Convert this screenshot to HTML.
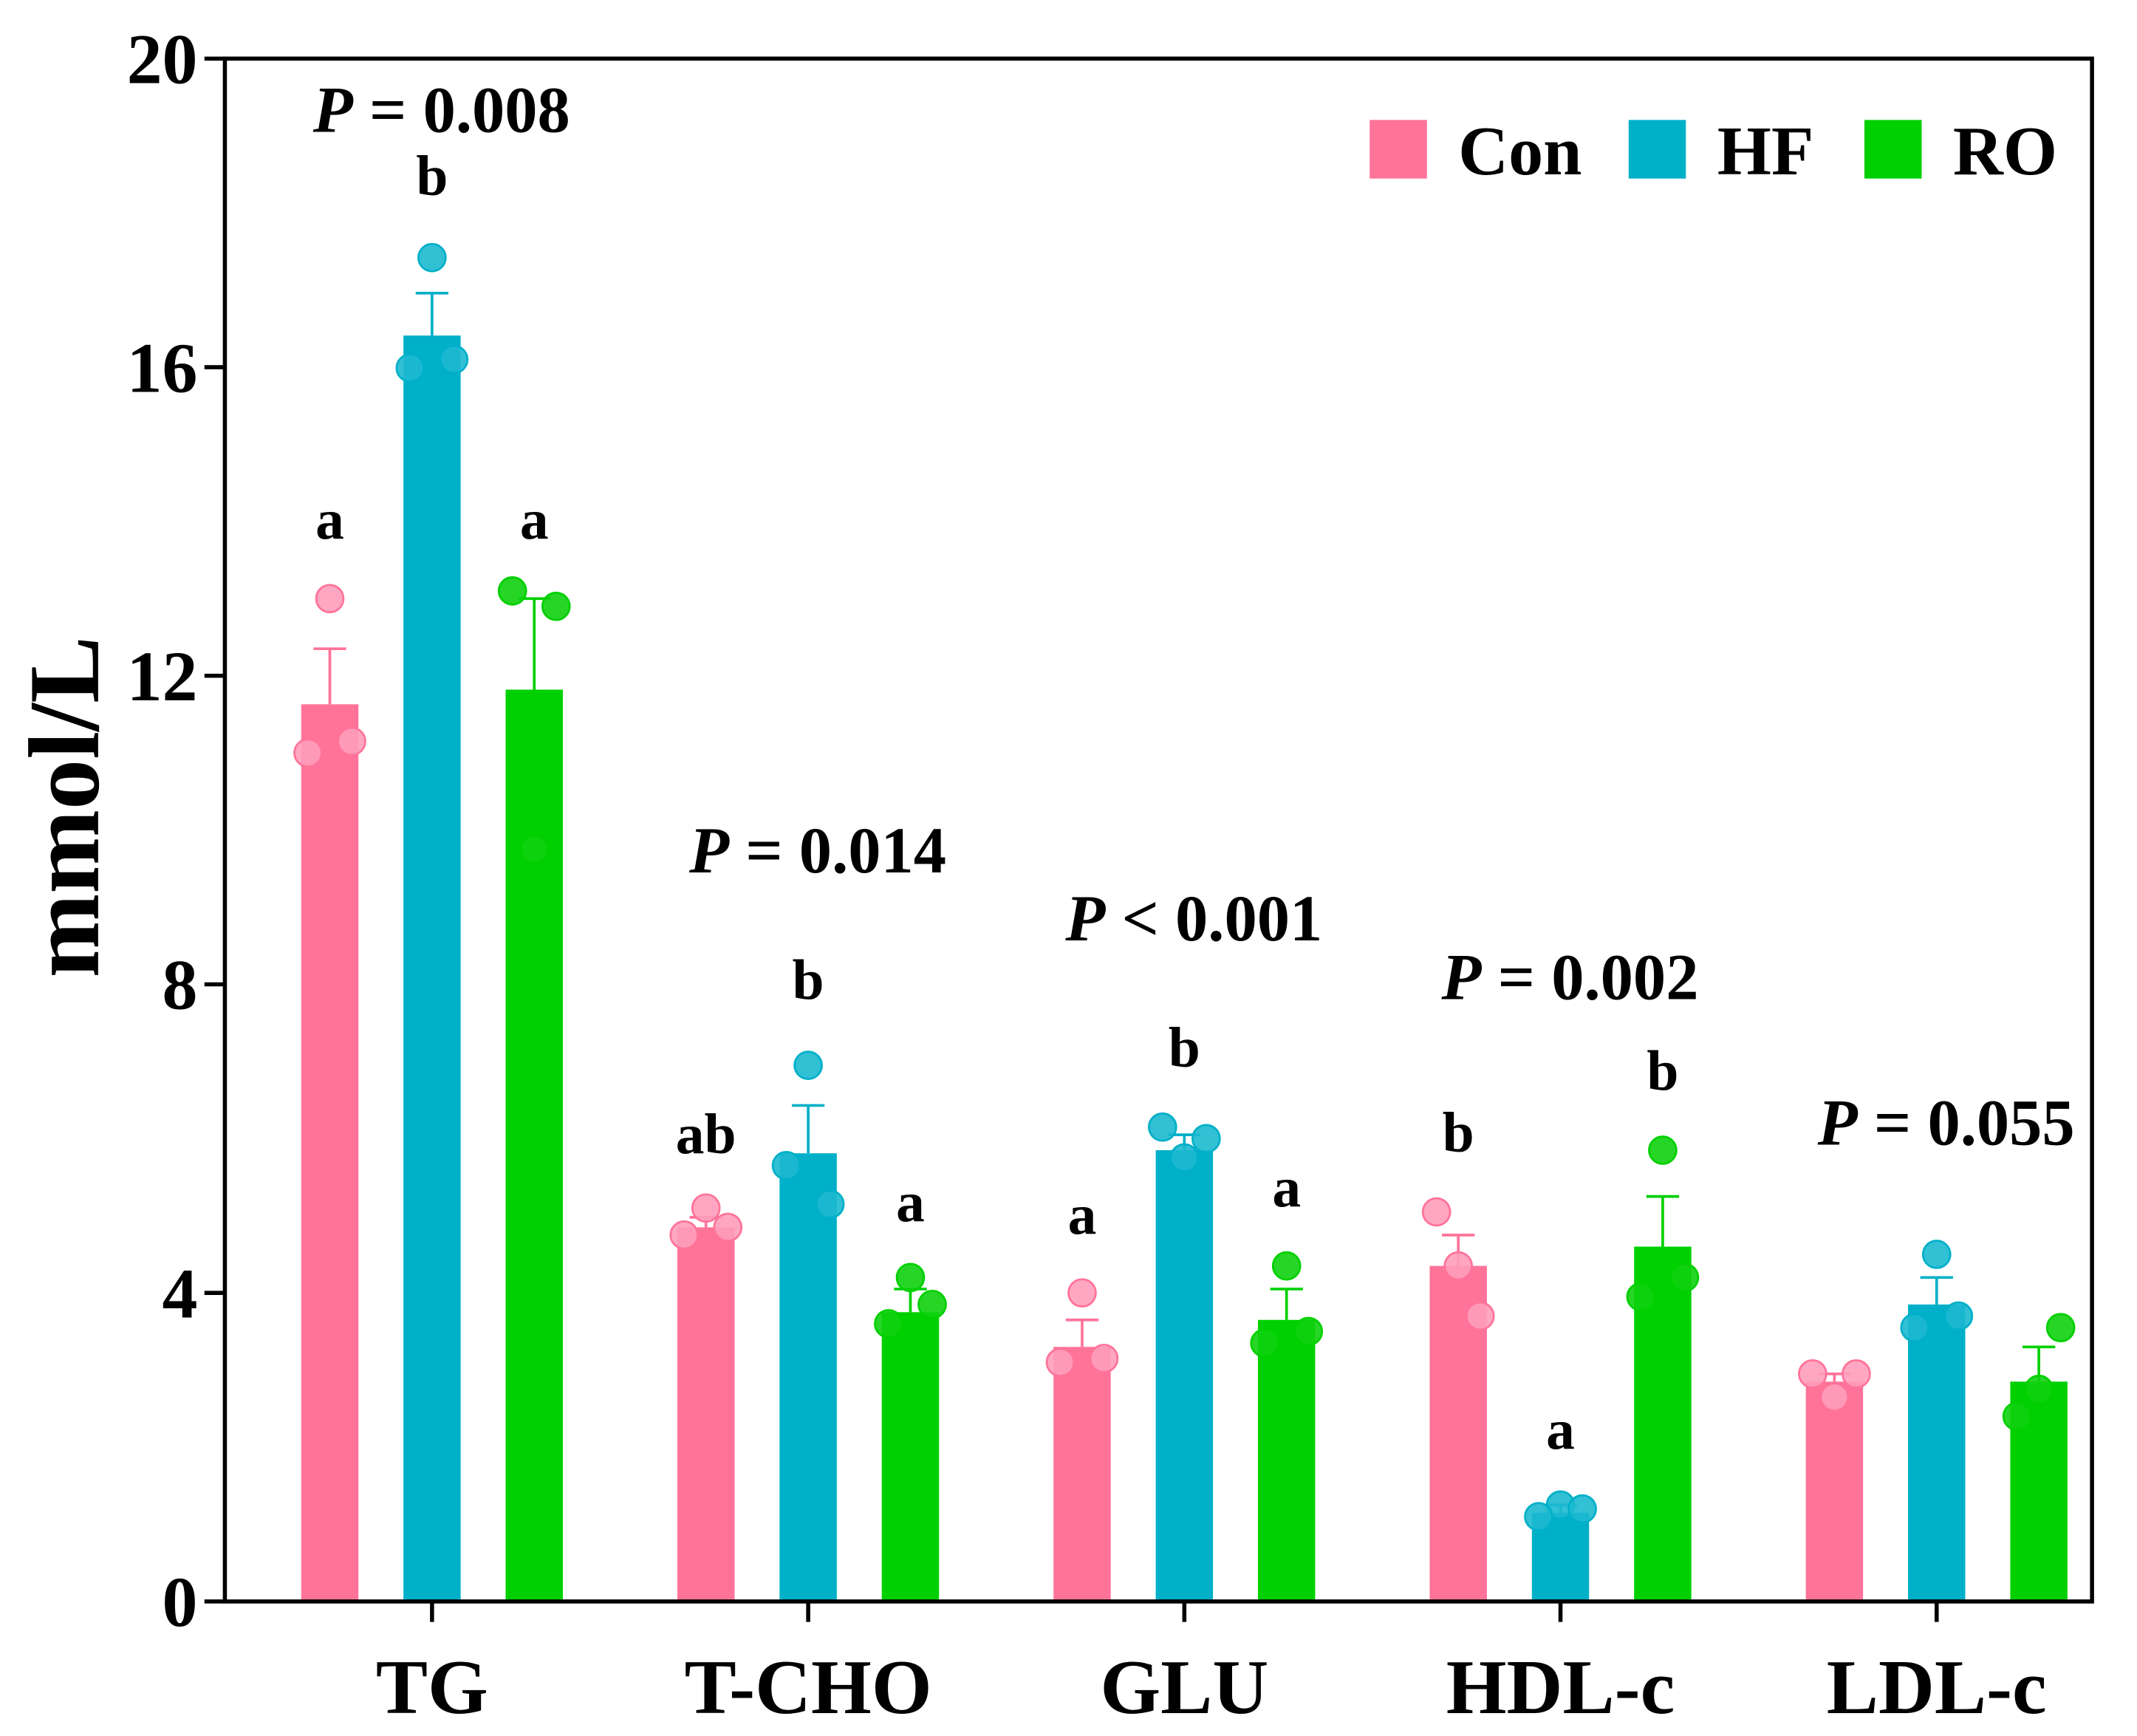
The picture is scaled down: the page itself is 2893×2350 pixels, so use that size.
<!DOCTYPE html>
<html><head><meta charset="utf-8"><style>html,body{margin:0;padding:0;background:#fff}svg{display:block}text{font-family:"Liberation Serif",serif;font-weight:bold;fill:#000}</style></head>
<body>
<svg id="chart" width="2893" height="2350" viewBox="0 0 1568 1273.7" xmlns="http://www.w3.org/2000/svg"></svg>
<script>
const categories = ["TG","T-CHO","GLU","HDL-c","LDL-c"];
const groups = ["Con","HF","RO"];
const conMeans = [11.63, 4.85, 3.3, 4.35, 2.85];
const hfMeans = [16.41, 5.81, 5.85, 1.15, 3.85];
const roMeans = [11.82, 3.75, 3.65, 4.6, 2.85];
const conErr = [12.35, 4.98, 3.65, 4.75, 2.95];
const hfErr = [16.96, 6.43, 6.05, 1.25, 4.2];
const roErr = [13.0, 4.05, 4.05, 5.25, 3.3];
const conPts = [[13.0,11.0,11.15],[5.1,4.75,4.85],[4.0,3.1,3.15],[4.35,5.05,3.7],[2.65,2.95,2.95]];
const hfPts = [[17.42,15.99,16.1],[6.95,5.65,5.15],[5.75,6.15,6.0],[1.25,1.1,1.2],[4.5,3.55,3.7]];
const roPts = [[9.75,13.1,12.9],[4.2,3.6,3.85],[4.35,3.35,3.5],[5.85,3.95,4.2],[2.75,2.4,3.55]];
const letters = [["a","b","a"],["ab","b","a"],["a","b","a"],["b","a","b"],["","",""]];
const letterVals = [[13.78,18.23,13.78],[5.81,7.81,4.93],[4.77,6.93,5.12],[5.83,1.98,6.63],[0,0,0]];
const pLabels = [["=","0.008"],["=","0.014"],["<","0.001"],["=","0.002"],["=","0.055"]];
const pVals = [19.05,9.45,8.57,7.81,5.92];
const yTicks = [0,4,8,12,16,20];

const svg = document.getElementById('chart');
const NS = "http://www.w3.org/2000/svg";
const X0=165, X1=1535, Y0=1175, Y1=43, YMAX=20;
const y = v => Y0 - v/YMAX*(Y0-Y1);
const xc = i => 317 + i*276;
const colors = ["#ff7399","#00b0c8","#00d000"];
const ptColors = ["#ff9dbb","#1cb9d0","#10d010"];
function mk(tag, attrs, parent){const e=document.createElementNS(NS,tag);for(const k in attrs)e.setAttribute(k,attrs[k]);(parent||svg).appendChild(e);return e;}

const means=[conMeans,hfMeans,roMeans], errs=[conErr,hfErr,roErr], pts=[conPts,hfPts,roPts];
categories.forEach((c,i)=>{
  groups.forEach((g,j)=>{
    const cx = xc(i)+(j-1)*75;
    const b = mk('rect',{x:cx-21,y:y(means[j][i]),width:42,height:Y0-y(means[j][i]),fill:colors[j]});
    
    
    const e = mk('path',{d:`M${cx} ${y(means[j][i])}V${y(errs[j][i])}M${cx-12} ${y(errs[j][i])}H${cx+12}`,stroke:colors[j],'stroke-width':2,fill:'none'});
    
    
    const offs=[0,-16,16];
    pts[j][i].forEach((v,k)=>{
      const p = mk('circle',{cx:cx+offs[k],cy:y(v),r:10,fill:ptColors[j],stroke:colors[j],'stroke-width':1.5,'fill-opacity':0.9});
      
      
    });
    if(letters[i][j]){
      const t = mk('text',{x:cx,y:y(letterVals[i][j]),'font-size':42,'text-anchor':'middle'});
      t.textContent = letters[i][j];
      
      
    }
  });
  const pt = mk('text',{x:xc(i)+7,y:y(pVals[i]),'font-size':48,'text-anchor':'middle'});
  pt.innerHTML = `<tspan font-style="italic">P</tspan> ${pLabels[i][0]} ${pLabels[i][1]}`;
  
  
  const xl = mk('text',{x:xc(i),y:1257,'font-size':57,'text-anchor':'middle'});
  xl.textContent = c;
  
  
  const xt = mk('line',{x1:xc(i),x2:xc(i),y1:Y0,y2:Y0+15,stroke:'#000','stroke-width':3});
  
  
});
yTicks.forEach(v=>{
  const l = mk('line',{x1:X0-15,x2:X0,y1:y(v),y2:y(v),stroke:'#000','stroke-width':3});
  
  
  const t = mk('text',{x:X0-20,y:y(v)+18,'font-size':52,'text-anchor':'end'});
  t.textContent = v;
  
  
});
const frame = mk('rect',{x:X0,y:Y1,width:X1-X0,height:Y0-Y1,fill:'none',stroke:'#000','stroke-width':3});


const yt = mk('text',{x:0,y:0,'font-size':74,'text-anchor':'middle',transform:'translate(72,592) rotate(-90)'});
yt.textContent = 'mmol/L';


const legX=[1005,1195,1368];
groups.forEach((g,j)=>{
  const r = mk('rect',{x:legX[j],y:88,width:42,height:43,fill:colors[j]});
  
  
  const t = mk('text',{x:legX[j]+65,y:128,'font-size':51});
  t.textContent = g;
  
  
});
</script>
</body></html>
